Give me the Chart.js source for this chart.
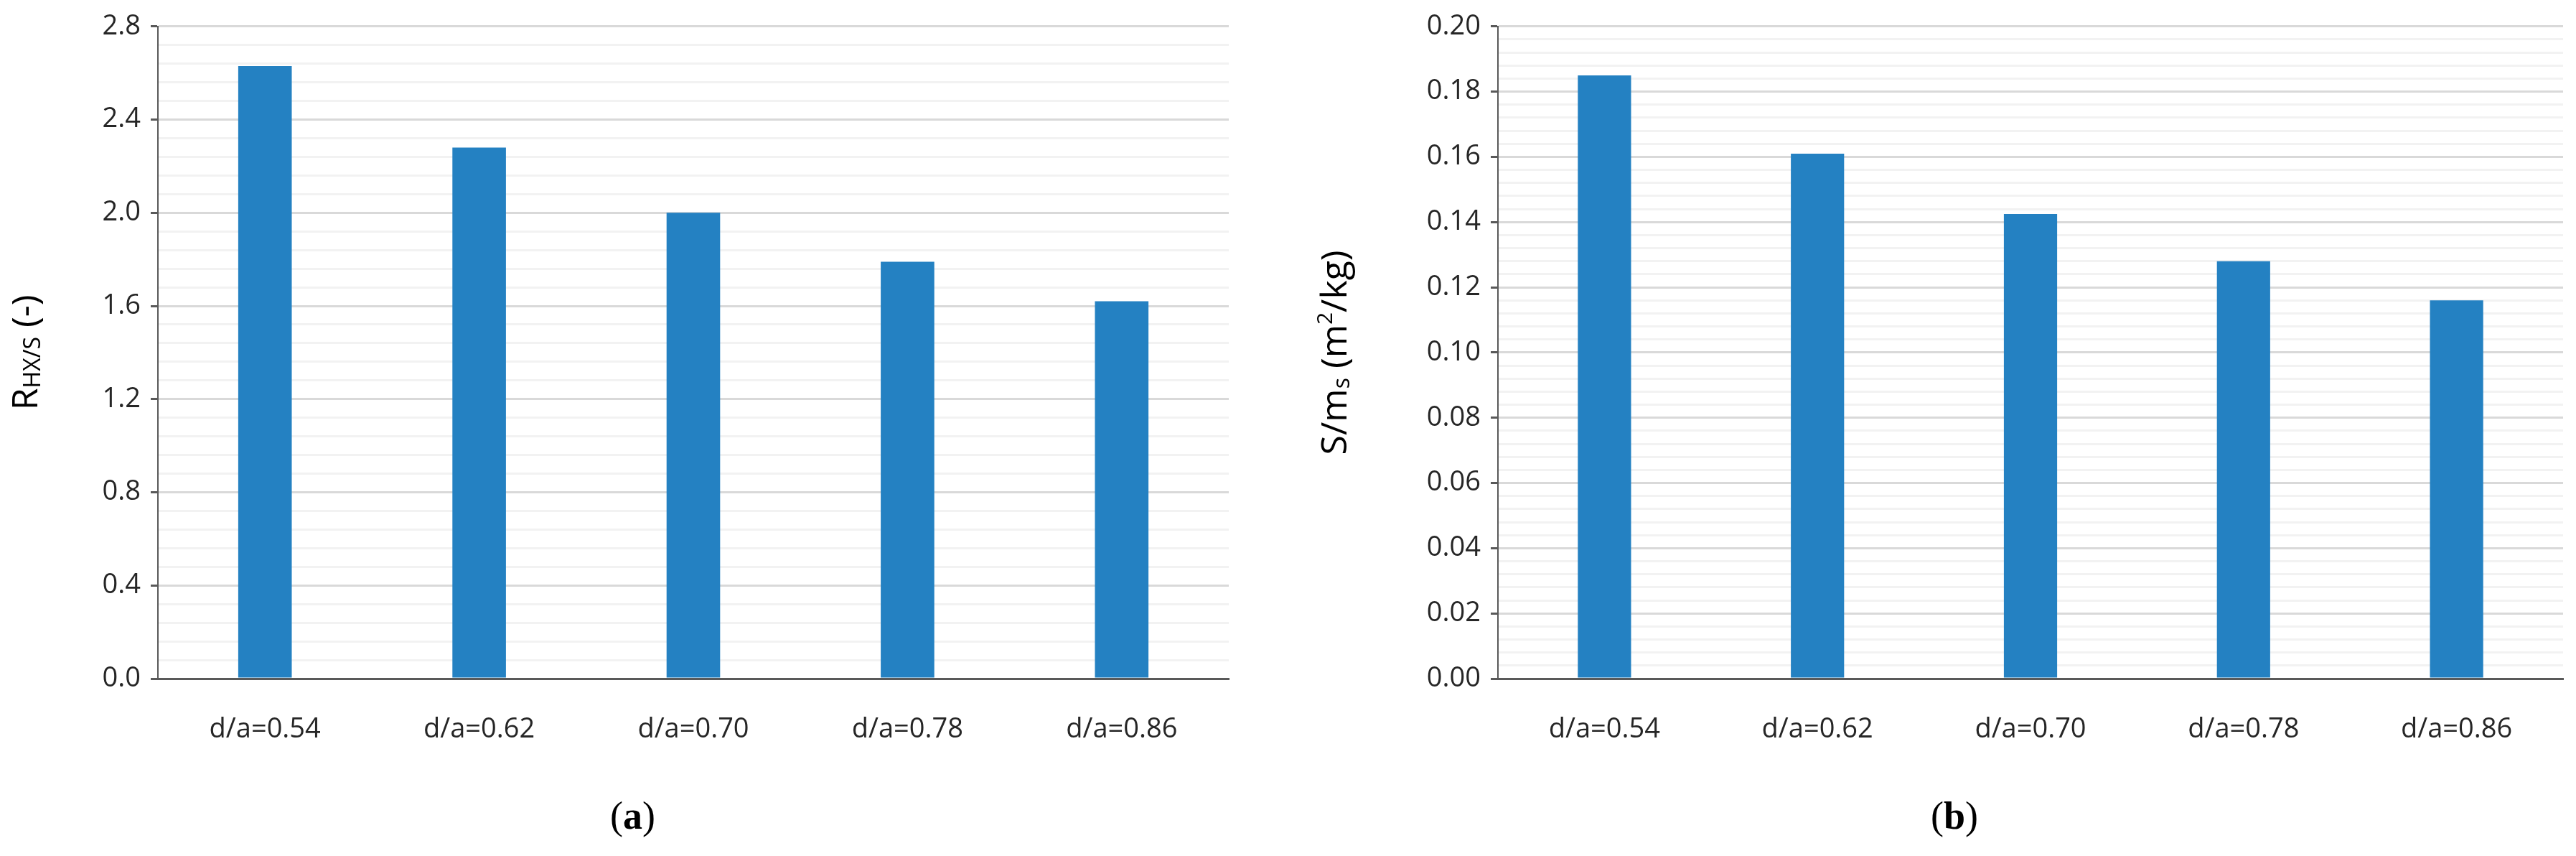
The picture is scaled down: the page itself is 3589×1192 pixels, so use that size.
<!DOCTYPE html>
<html>
<head>
<meta charset="utf-8">
<script src="https://cdn.jsdelivr.net/npm/chart.js@4.4.1/dist/chart.umd.min.js"></script>
<style>
  body { margin: 0; background: #fff; width: 3589px; height: 1192px; position: relative; overflow: hidden; }
  .box { position: absolute; top: 0; height: 1060px; }
  .cap { position: absolute; top: 1105px; font: 54px "Liberation Serif", serif; }
</style>
</head>
<body>
<div class="box" style="left:0;width:1730px"><canvas id="chartA"></canvas></div>
<div class="box" style="left:1760px;width:1829px"><canvas id="chartB"></canvas></div>
<div class="cap" style="left:850px">(<b>a</b>)</div>
<div class="cap" style="left:2690px">(<b>b</b>)</div>
<script>
const categories = ['d/a=0.54', 'd/a=0.62', 'd/a=0.70', 'd/a=0.78', 'd/a=0.86'];
const ratioValues = [2.63, 2.28, 2.00, 1.79, 1.62];
const areaValues = [0.185, 0.161, 0.1425, 0.128, 0.116];

const tickFont = {family: 'Open Sans', size: 38};
const blue = '#2481c2';

// draws the rotated y title with sub/superscript pieces
function titlePlugin(parts, x) {
    return {
        id: 'yTitle',
        afterDraw(chart) {
            const ctx = chart.ctx;
            const area = chart.chartArea;
            ctx.save();
            let total = 0;
            parts.forEach(p => {
                ctx.font = p.size + 'px "Open Sans"';
                total += ctx.measureText(p.text).width;
            });
            ctx.translate(x, (area.top + area.bottom) / 2);
            ctx.rotate(-Math.PI / 2);
            let pos = -total / 2;
            ctx.fillStyle = '#000';
            ctx.textBaseline = 'alphabetic';
            parts.forEach(p => {
                ctx.font = p.size + 'px "Open Sans"';
                ctx.fillText(p.text, pos, 16 + (p.dy || 0));
                pos += ctx.measureText(p.text).width;
            });
            ctx.restore();
        }
    };
}

function makeChart(id, values, max, minor, major, decimals, axisWidth, title) {
    const isMajor = v => Math.abs(v / major - Math.round(v / major)) < 1e-6;
    return new Chart(document.getElementById(id), {
        type: 'bar',
        data: {
            labels: categories,
            datasets: [{data: values, backgroundColor: blue, barPercentage: 0.25, categoryPercentage: 1}]
        },
        options: {
            responsive: true,
            maintainAspectRatio: false,
            animation: false,
            layout: {padding: {top: 14, right: 18}},
            plugins: {legend: {display: false}, tooltip: {enabled: false}},
            scales: {
                x: {
                    grid: {display: false},
                    border: {color: '#595959', width: 3},
                    ticks: {font: tickFont, color: '#262626', padding: 40},
                    afterFit(s) { s.height = 115; }
                },
                y: {
                    min: 0,
                    max: max,
                    border: {color: '#595959', width: 2},
                    grid: {
                        color: c => isMajor(c.tick.value) ? '#d9d9d9' : '#f2f2f2',
                        tickColor: c => isMajor(c.tick.value) ? '#595959' : 'rgba(0,0,0,0)',
                        lineWidth: 3,
                        tickLength: 10
                    },
                    ticks: {
                        stepSize: minor,
                        autoSkip: false,
                        font: tickFont,
                        color: '#262626',
                        padding: 14,
                        callback: v => isMajor(v) ? v.toFixed(decimals) : ''
                    },
                    afterFit(s) { s.width = axisWidth; }
                }
            }
        },
        plugins: [title]
    });
}

makeChart('chartA', ratioValues, 2.8, 0.08, 0.4, 1, 220,
    titlePlugin([{text: 'R', size: 50}, {text: 'HX/S', size: 32, dy: 4}, {text: ' (-)', size: 50}], 36));
makeChart('chartB', areaValues, 0.20, 0.004, 0.02, 2, 327,
    titlePlugin([{text: 'S/m', size: 50}, {text: 's', size: 32, dy: 4}, {text: ' (m', size: 50}, {text: '2', size: 30, dy: -20}, {text: '/kg)', size: 50}], 100));
</script>
</body>
</html>
